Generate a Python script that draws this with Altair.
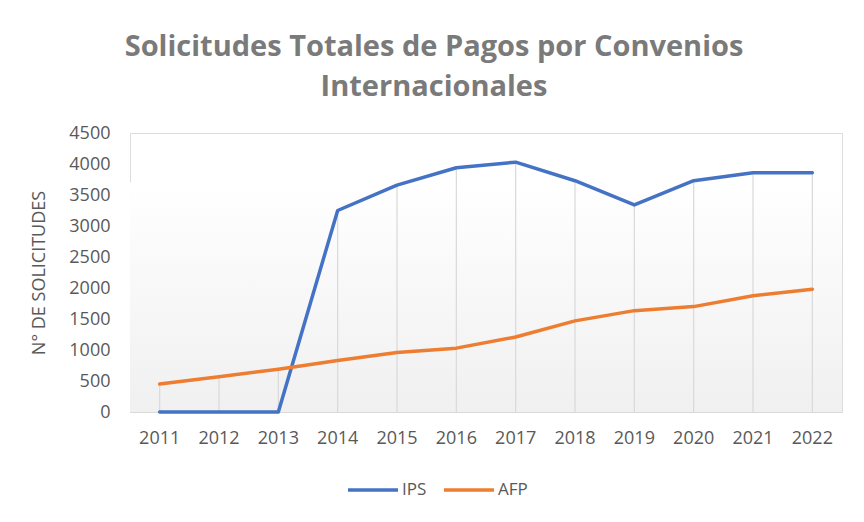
import altair as alt
import pandas as pd

years = ["2011", "2012", "2013", "2014", "2015", "2016", "2017", "2018", "2019", "2020", "2021", "2022"]
ips = [0, 0, 0, 3250, 3660, 3940, 4030, 3730, 3340, 3730, 3860, 3860]
afp = [450, 570, 690, 830, 960, 1030, 1210, 1470, 1635, 1700, 1875, 1980]
series = ["IPS", "AFP"]
colors = ["#4472C4", "#ED7D31"]
y_ticks = [0, 500, 1000, 1500, 2000, 2500, 3000, 3500, 4000, 4500]

FONT = "Open Sans"

long = pd.DataFrame(
    {"year": years * 2, "value": ips + afp, "serie": ["IPS"] * len(years) + ["AFP"] * len(years)}
)
wide = pd.DataFrame({"year": years, "ips": ips, "afp": afp})

x_enc = alt.X(
    "year:N",
    title=None,
    sort=years,
    scale=alt.Scale(paddingInner=0, paddingOuter=0, align=0.5),
    axis=alt.Axis(
        labelAngle=0,
        ticks=False,
        domainColor="#d9d9d9",
        domainWidth=1.2,
        labelFont=FONT,
        labelFontSize=18,
        labelColor="#595959",
        labelPadding=17,
        grid=False,
    ),
)
y_scale = alt.Scale(domain=[0, 4500], nice=False)
y_axis = alt.Axis(
    values=y_ticks,
    format="d",
    grid=False,
    domain=False,
    ticks=False,
    labelFont=FONT,
    labelFontSize=18,
    labelColor="#595959",
    labelPadding=20,
    title="N° DE SOLICITUDES",
    titleFont=FONT,
    titleFontSize=18,
    titleFontWeight="normal",
    titleColor="#595959",
    titlePadding=20,
)

bg = (
    alt.Chart(pd.DataFrame({"top": [3700]}))
    .mark_rect(
        color=alt.Gradient(
            gradient="linear",
            stops=[
                alt.GradientStop(color="#ffffff", offset=0),
                alt.GradientStop(color="#f0f0f0", offset=1),
            ],
            x1=0, x2=0, y1=0, y2=1,
        )
    )
    .encode(x=alt.value(0), x2=alt.value(712), y=alt.Y("top:Q", scale=y_scale, axis=y_axis), y2=alt.datum(0))
)

drops = (
    alt.Chart(wide)
    .transform_calculate(top="max(datum.ips, datum.afp)")
    .mark_rule(color="#d9d9d9", strokeWidth=1.2)
    .encode(x=x_enc, y=alt.Y("top:Q", scale=y_scale, axis=y_axis), y2=alt.datum(0))
)

lines = (
    alt.Chart(long)
    .mark_line(strokeWidth=3.5, strokeCap="round", strokeJoin="round")
    .encode(
        x=x_enc,
        y=alt.Y("value:Q", scale=y_scale, axis=y_axis),
        color=alt.Color(
            "serie:N",
            scale=alt.Scale(domain=series, range=colors),
            sort=series,
            legend=alt.Legend(
                title=None,
                orient="none",
                direction="horizontal",
                legendX=216,
                legendY=330,
                symbolType="stroke",
                symbolSize=2500,
                symbolStrokeWidth=3.5,
                labelFont=FONT,
                labelFontSize=17,
                labelColor="#595959",
                columnPadding=10,
                labelOffset=2,
            ),
        ),
        order=alt.value(0),
    )
)

chart = (
    alt.layer(bg, drops, lines)
    .properties(
        width=712,
        height=279,
        autosize=alt.AutoSizeParams(type="none"),
        padding={"left": 122, "top": 125, "right": 14, "bottom": 110},
        title=alt.Title(
            ["Solicitudes Totales de Pagos por Convenios", "Internacionales"],
            font=FONT,
            fontSize=29,
            fontWeight="bold",
            color="#7a7a7a",
            anchor="middle",
            frame="group",
            dx=-52,
            offset=22,
            lineHeight=40,
        ),
    )
    .configure_view(stroke=None)
    .configure(background="white")
)

chart.save("out.html", embed_options={"renderer": "svg", "actions": False})
